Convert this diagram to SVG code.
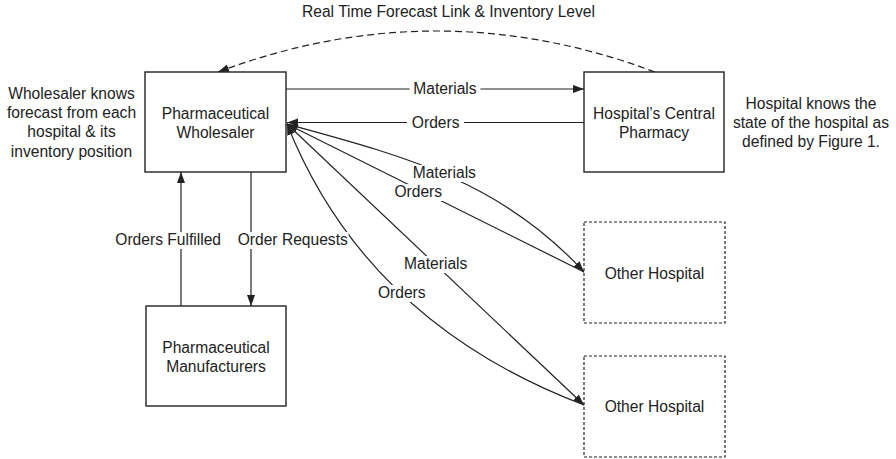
<svg xmlns="http://www.w3.org/2000/svg" width="896" height="459" viewBox="0 0 896 459">
  <defs>
    <marker id="arrow" markerUnits="userSpaceOnUse" markerWidth="12" markerHeight="9" refX="11" refY="4" orient="auto">
      <path d="M0,0 L11,4 L0,8 z" fill="#222"/>
    </marker>
    <style>
      text { font-family: "Liberation Sans", Arial, Helvetica, sans-serif; font-size: 15.6px; fill: #222; }
      .mid { text-anchor: middle; }
      .box { fill: #fff; stroke: #222; stroke-width: 1.4; }
      .box-dash { fill: #fff; stroke: #222; stroke-width: 1.2; stroke-dasharray: 3 2; }
      .line { fill: none; stroke: #222; stroke-width: 1.2; marker-end: url(#arrow); }
      .dash { fill: none; stroke: #222; stroke-width: 1.2; stroke-dasharray: 7 4; marker-end: url(#arrow); }
      .bg { fill: #fff; }
    </style>
  </defs>

  <rect width="896" height="459" fill="#fff"/>

  <!-- flows between the parties -->
  <g id="connectors">
    <!-- forecast link from the central pharmacy back to the wholesaler -->
    <path class="dash" d="M655,72 Q436,-10 218,72"/>
    <text class="mid" x="448.5" y="17.3">Real Time Forecast Link &amp; Inventory Level</text>

    <!-- wholesaler <-> central pharmacy -->
    <path class="line" d="M286,89 H584"/>
    <path class="line" d="M584,122.5 H287"/>

    <!-- wholesaler <-> other hospital (upper) -->
    <path class="line" d="M287,124 C400,155 500,180 584,272"/>
    <path class="line" d="M584,272 L287,124"/>

    <!-- wholesaler <-> other hospital (lower) -->
    <path class="line" d="M287,124 L584,405"/>
    <path class="line" d="M584,405 Q366,322 287,124"/>

    <!-- wholesaler <-> manufacturers -->
    <path class="line" d="M181,306 V172"/>
    <path class="line" d="M251,172 V306"/>

    <!-- flow labels on white backing -->
    <rect class="bg" x="409.5" y="81" width="71" height="17"/>
    <text class="mid" x="445" y="94.3">Materials</text>

    <rect class="bg" x="407" y="114.5" width="57" height="17"/>
    <text class="mid" x="435.7" y="127.5">Orders</text>

    <rect class="bg" x="409" y="165" width="71" height="17"/>
    <text class="mid" x="444.3" y="178.3">Materials</text>

    <rect class="bg" x="390.5" y="184" width="56" height="17"/>
    <text class="mid" x="418.3" y="197.3">Orders</text>

    <rect class="bg" x="400" y="256" width="71" height="17"/>
    <text class="mid" x="435.7" y="269.3">Materials</text>

    <rect class="bg" x="374" y="285" width="56" height="17"/>
    <text class="mid" x="401.8" y="298.3">Orders</text>

    <rect class="bg" x="112" y="232" width="112" height="17"/>
    <text x="221" y="245" text-anchor="end">Orders Fulfilled</text>

    <rect class="bg" x="234.5" y="232" width="114" height="17"/>
    <text x="237.7" y="245">Order Requests</text>
  </g>

  <g id="wholesaler">
    <rect class="box" x="145" y="72" width="141" height="100"/>
    <text class="mid" x="215.5" y="119">Pharmaceutical</text>
    <text class="mid" x="215.5" y="137.5">Wholesaler</text>
  </g>

  <g id="central-pharmacy">
    <rect class="box" x="584" y="72" width="140" height="100"/>
    <text class="mid" x="654" y="119">Hospital’s Central</text>
    <text class="mid" x="654" y="137.5">Pharmacy</text>
  </g>

  <g id="manufacturers">
    <rect class="box" x="146" y="306" width="140" height="100"/>
    <text class="mid" x="216" y="353.3">Pharmaceutical</text>
    <text class="mid" x="216" y="371.7">Manufacturers</text>
  </g>

  <g id="other-hospital-1">
    <rect class="box-dash" x="584" y="222" width="141" height="101"/>
    <text class="mid" x="654.5" y="279">Other Hospital</text>
  </g>

  <g id="other-hospital-2">
    <rect class="box-dash" x="584" y="356" width="141" height="101"/>
    <text class="mid" x="654.5" y="412.4">Other Hospital</text>
  </g>

  <g id="note-wholesaler">
    <text class="mid" x="71.5" y="98.5">Wholesaler knows</text>
    <text class="mid" x="71.5" y="118">forecast from each</text>
    <text class="mid" x="71.5" y="137.3">hospital &amp; its</text>
    <text class="mid" x="71.5" y="156.5">inventory position</text>
  </g>

  <g id="note-hospital">
    <text class="mid" x="811" y="108.5">Hospital knows the</text>
    <text class="mid" x="811" y="128">state of the hospital as</text>
    <text class="mid" x="811" y="147.3">defined by Figure 1.</text>
  </g>
</svg>
